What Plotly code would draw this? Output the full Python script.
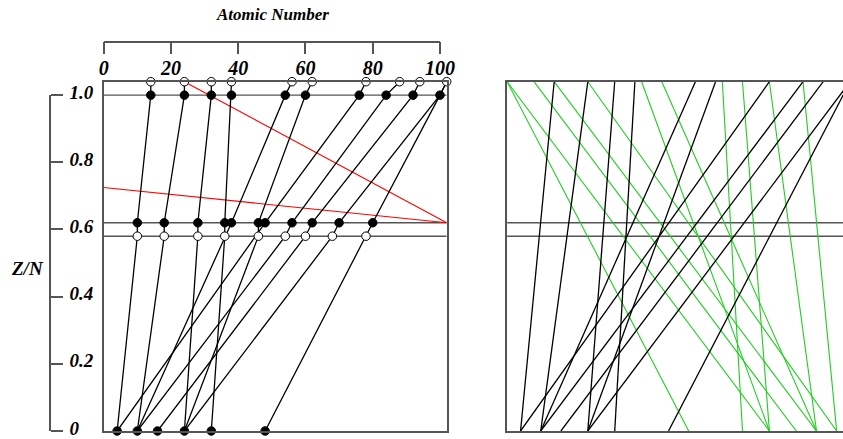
import plotly.graph_objects as go

# ---- data -----------------------------------------------------------------
# Z/N levels that every chain passes through: bottom, lower row, upper row, 1.0, frame top
levels = [0.0, 0.58, 0.62, 1.0, 1.04]

# atomic-number position of each chain at those levels (None = no vertex there)
chains = [
    [4, 10, 10, 14, 14],
    [10, 18, 18, 24, 24],
    [24, 28, 28, 32, 32],
    [32, 36, 36, 38, 38],
    [10, 36, 38, 54, 56],
    [24, 46, 46, 60, 62],
    [4, None, 48, 76, 78],
    [10, 54, 56, 84, 88],
    [16, 60, 62, 92, 94],
    [24, 68, 70, 100, 102],
    [48, 78, 80, 100, 102],
]

# point markers on each row
bottom_filled = [4, 10, 16, 24, 32, 48]
row058_open = [10, 18, 28, 36, 46, 54, 60, 68, 78]
row062_filled = [10, 18, 28, 36, 38, 46, 48, 56, 62, 70, 80]
row100_filled = [14, 24, 32, 38, 54, 60, 76, 84, 92, 100]
top_open = [14, 24, 32, 38, 56, 62, 78, 88, 94, 102]

# red guide lines (x, Z/N)
red_a_x, red_a_y = [24, 102], [1.04, 0.62]
red_b_x, red_b_y = [0, 102], [0.725, 0.62]

# green lines in the right panel: (bottom x, top x)
green_bottom = [54, 78, 86, 92, 98, 78, 92, 70, 78, 92, 98]
green_top = [0, 0, 8, 14, 24, 40, 46, 64, 70, 78, 88]

# horizontal reference rows
rows_left = [1.0, 0.62, 0.58]
rows_right = [0.62, 0.58]

x_ticks = [0, 20, 40, 60, 80, 100]
y_ticks = [0, 0.2, 0.4, 0.6, 0.8, 1.0]
y_ticktext = ["0", "0.2", "0.4", "0.6", "0.8", "1.0"]

# ---- layout geometry -------------------------------------------------------
W, H = 843, 439
def fx(p):
    return p / W
def fy(p):
    return 1 - p / H

X0, XL_END = 103.7, 446.7          # left panel frame, x = 0 .. 102
scale = (XL_END - X0) / 102.0
XR0 = 507.1
right_range = (W - XR0) / scale
Y_BOT, Y_TOP = 431.0, 81.7          # Z/N = 0 .. 1.04
Y_ONE = Y_BOT - (Y_BOT - Y_TOP) / 1.04

AX = "#555555"
FONT = dict(family="Liberation Serif, Times New Roman, serif", size=20,
            color="black", weight="bold", style="italic")

fig = go.Figure()

def add_line(x, y, xa, ya, color="black", width=1.3):
    fig.add_trace(go.Scatter(x=x, y=y, xaxis=xa, yaxis=ya, mode="lines",
                             line=dict(color=color, width=width),
                             showlegend=False, hoverinfo="skip",
                             connectgaps=True))

# reference rows
for r in rows_left:
    add_line([0, 102], [r, r], "x", "y", AX, 1.4)
for r in rows_right:
    add_line([0, 102], [r, r], "x2", "y3", AX, 1.4)

# red lines (left panel)
add_line(red_a_x, red_a_y, "x", "y", "red", 1.1)
add_line(red_b_x, red_b_y, "x", "y", "red", 1.1)

# green lines (right panel)
for b, t in zip(green_bottom, green_top):
    add_line([b, t], [levels[0], levels[-1]], "x2", "y3", "#22cc22", 1.1)

# chains: through every vertex on the left, end to end on the right
for c in chains:
    add_line(c, levels, "x", "y")
    add_line([c[0], c[-1]], [levels[0], levels[-1]], "x2", "y3")

def add_markers(xs, yval, filled):
    fig.add_trace(go.Scatter(
        x=xs, y=[yval] * len(xs), xaxis="x", yaxis="y", mode="markers",
        marker=dict(size=8.5, color="black" if filled else "white",
                    line=dict(color="black", width=1)),
        cliponaxis=False, showlegend=False, hoverinfo="skip"))

add_markers(bottom_filled, 0.0, True)
add_markers(row058_open, 0.58, False)
add_markers(row062_filled, 0.62, True)
add_markers(row100_filled, 1.0, True)
add_markers(top_open, 1.04, False)

# trace that anchors the two stand-alone tick axes
fig.add_trace(go.Scatter(x=[None], y=[None], xaxis="x3", yaxis="y2",
                         showlegend=False, hoverinfo="skip"))

frame = dict(showgrid=False, zeroline=False, showticklabels=False, ticks="",
             showline=True, linecolor=AX, linewidth=1.5, automargin=False)

fig.update_layout(
    width=W, height=H, autosize=False, showlegend=False,
    margin=dict(l=0, r=0, t=0, b=0, pad=0, autoexpand=False),
    paper_bgcolor="white", plot_bgcolor="rgba(0,0,0,0)",
    xaxis=dict(domain=[fx(X0), fx(XL_END)], range=[0, 102], anchor="y",
               mirror=True, **frame),
    yaxis=dict(domain=[fy(Y_BOT), fy(Y_TOP)], range=[0, 1.04], anchor="x",
               mirror=True, **frame),
    xaxis2=dict(domain=[fx(XR0), 1], range=[0, right_range], anchor="y3",
                mirror=True, **frame),
    yaxis3=dict(domain=[fy(Y_BOT), fy(Y_TOP)], range=[0, 1.04], anchor="x2",
                mirror=False, **frame),
    xaxis3=dict(domain=[fx(X0), fx(X0 + 100 * scale)], range=[0, 100],
                anchor="free", position=fy(41.7), side="bottom",
                showgrid=False, zeroline=False, showline=True, automargin=False,
                linecolor=AX, linewidth=1.5, ticks="outside", ticklen=12,
                tickwidth=1.5, tickcolor=AX, tickvals=x_ticks,
                tickfont=FONT, ticklabeloverflow="allow",
                ticklabelstandoff=-3),
    yaxis2=dict(domain=[fy(Y_BOT), fy(Y_ONE)],
                range=[0, 1], anchor="free", position=fx(50), side="right",
                showgrid=False, zeroline=False, showline=True, automargin=False,
                linecolor=AX, linewidth=1.5, ticks="outside", ticklen=12,
                tickwidth=1.5, tickcolor=AX, tickvals=y_ticks,
                ticktext=y_ticktext, tickfont=dict(FONT, size=19),
                ticklabeloverflow="allow", ticklabelstandoff=3,
                ticklabelshift=-3),
    annotations=[
        dict(text="Atomic Number", xref="paper", yref="paper",
             x=fx(272), y=fy(15), xanchor="center", yanchor="middle",
             showarrow=False, font=dict(FONT, size=17)),
        dict(text="Z/N", xref="paper", yref="paper",
             x=fx(27.5), y=fy(268), xanchor="center", yanchor="middle",
             showarrow=False, font=dict(FONT, size=19)),
    ],
)

# page without body margin or scrollbars so the figure sits at the origin
page_js = """
document.documentElement.style.margin = '0';
document.documentElement.style.overflow = 'hidden';
document.body.style.margin = '0';
document.body.style.padding = '0';
document.body.style.overflow = 'hidden';
"""

fig.write_html("out.html", config={"responsive": False}, post_script=page_js)
